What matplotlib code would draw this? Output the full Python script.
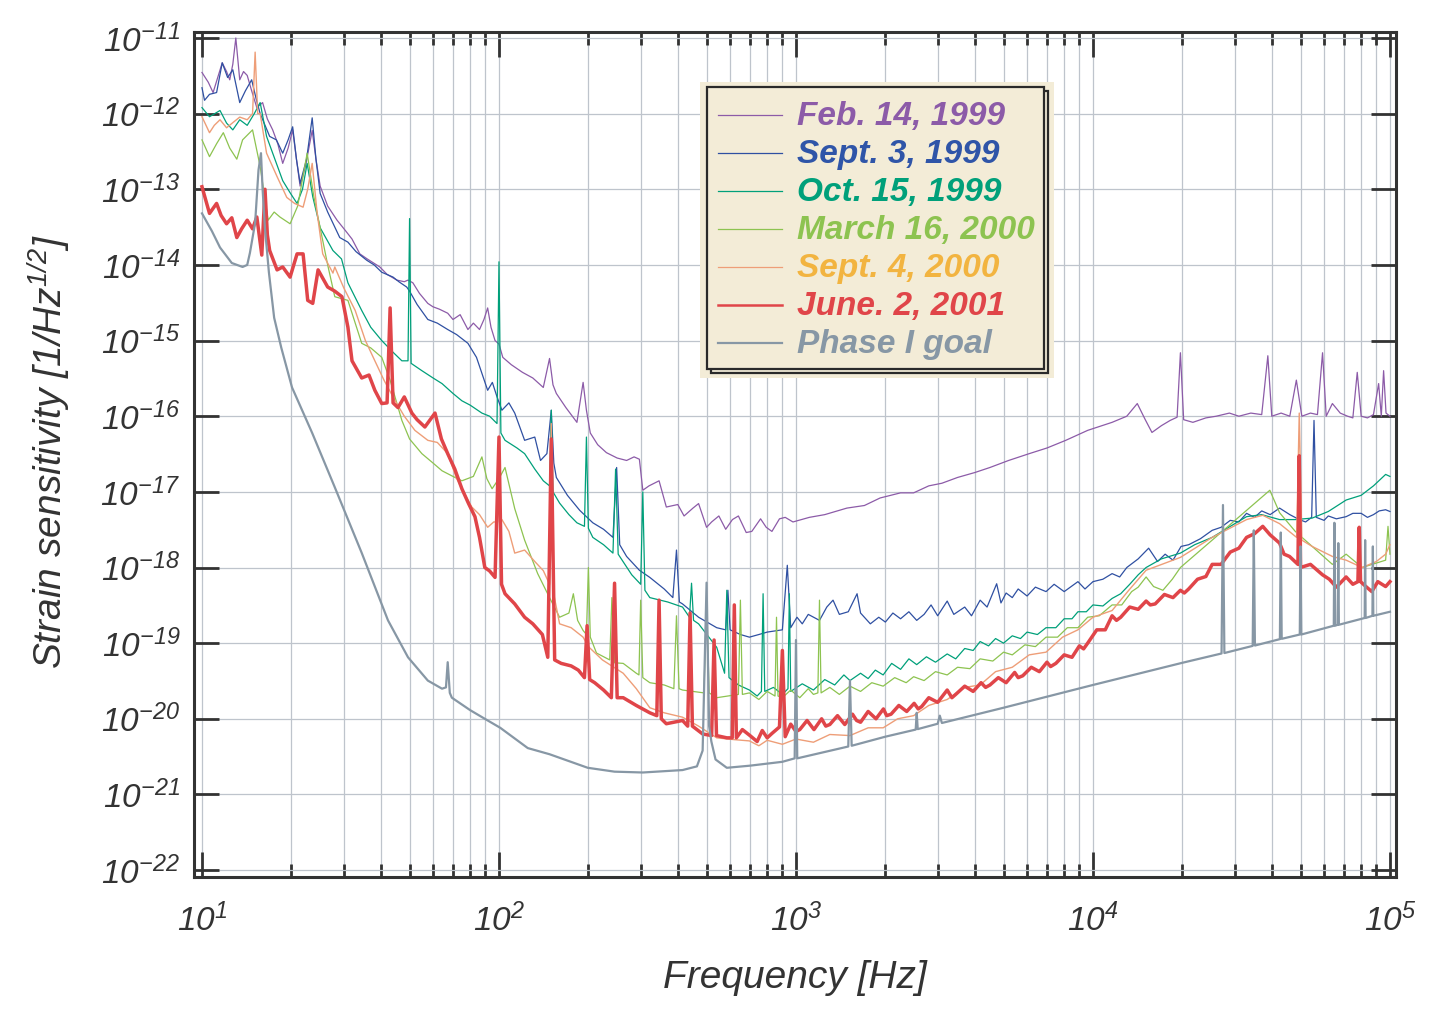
import numpy as np
import matplotlib
matplotlib.use("Agg")
import matplotlib.pyplot as plt
from matplotlib.ticker import FixedLocator, FuncFormatter, NullFormatter
from matplotlib.patches import Rectangle
from matplotlib.lines import Line2D

plt.rcParams['font.family'] = ['Liberation Sans', 'DejaVu Sans']
plt.rcParams['mathtext.fontset'] = 'custom'
plt.rcParams['mathtext.rm'] = 'Liberation Sans:italic'
plt.rcParams['mathtext.it'] = 'Liberation Sans:italic'
plt.rcParams['mathtext.bf'] = 'Liberation Sans:bold:italic'
plt.rcParams['mathtext.default'] = 'rm'

# ---------------- data: (frequency [Hz], strain [1/sqrt(Hz)]) ----------------
feb_1999 = [
    (10, 3.5e-12), (10.5, 2.6e-12), (10.9, 1.9e-12), (11.3, 3.0e-12), (11.7, 4.7e-12), (12.1, 3.6e-12),
    (12.4, 2.8e-12), (12.7, 4.5e-12), (13.0, 1.0e-11), (13.4, 2.8e-12), (13.8, 3.6e-12), (14.2, 3.2e-12),
    (14.7, 2.0e-12), (15.3, 1.2e-12), (16.0, 1.4e-12), (16.6, 8.5e-13), (17.3, 6.1e-13), (18.0, 4.0e-13),
    (18.7, 2.2e-13), (19.5, 3.5e-13), (20.2, 6.1e-13), (20.8, 2.5e-13), (21.4, 1.1e-13), (22.3, 2.0e-13),
    (23.5, 6.0e-13), (24.2, 2.5e-13), (25.0, 1.1e-13), (26.5, 6.0e-14), (28.5, 3.9e-14), (30.5, 2.8e-14),
    (32, 2.2e-14), (34, 1.4e-14), (36, 1.2e-14), (38, 1.05e-14), (39.7, 9.4e-15), (42, 7.5e-15),
    (45.3, 6.3e-15), (48, 6.0e-15), (49.4, 6.3e-15), (51.3, 5.8e-15), (54, 4.2e-15), (57.6, 3.1e-15),
    (59.9, 2.8e-15), (63, 2.6e-15), (67.2, 2.3e-15), (70, 1.9e-15), (74, 2.2e-15), (78.6, 1.4e-15),
    (82, 1.7e-15), (86, 1.4e-15), (89, 1.9e-15), (91.6, 2.7e-15), (94, 1.5e-15), (97, 1.0e-15),
    (100, 9.0e-16), (103, 6.0e-16), (110, 4.8e-16), (120, 3.8e-16), (130, 3.2e-16), (141, 2.4e-16),
    (148, 5.8e-16), (152, 2.6e-16), (156, 2.0e-16), (168, 1.3e-16), (183, 8.3e-17), (192, 2.8e-16),
    (197, 1.2e-16), (203, 6.0e-17), (215, 4.2e-17), (230, 3.3e-17), (250, 2.8e-17), (269, 2.6e-17),
    (285, 2.9e-17), (297, 2.7e-17), (305, 1.05e-17), (320, 1.2e-17), (346, 1.4e-17), (366, 6.3e-18),
    (400, 6.8e-18), (420, 4.8e-18), (450, 6.1e-18), (470, 7.0e-18), (500, 3.4e-18), (520, 4.0e-18),
    (550, 4.8e-18), (580, 3.2e-18), (611, 4.3e-18), (640, 4.8e-18), (680, 2.9e-18), (710, 3.0e-18),
    (740, 3.8e-18), (760, 4.4e-18), (794, 3.4e-18), (830, 3.0e-18), (880, 4.4e-18), (920, 4.6e-18),
    (977, 4.0e-18), (1109, 4.6e-18), (1250, 5.0e-18), (1484, 6.1e-18), (1700, 6.6e-18), (1920, 8.3e-18),
    (2250, 9.7e-18), (2490, 9.7e-18), (2800, 1.2e-17), (3100, 1.3e-17), (3500, 1.55e-17), (4000, 1.8e-17),
    (4500, 2.1e-17), (5200, 2.6e-17), (6100, 3.2e-17), (7000, 3.8e-17), (8100, 4.8e-17), (9600, 6.5e-17),
    (11600, 8.3e-17), (13000, 1.0e-16), (14100, 1.47e-16), (15000, 9.0e-17), (15800, 6.1e-17),
    (17000, 7.5e-17), (18200, 8.8e-17), (19200, 9.7e-17), (19700, 6.9e-16), (20200, 9.0e-17),
    (21700, 8.3e-17), (24000, 9.5e-17), (26000, 1.0e-16), (28800, 1.1e-16), (31000, 1.0e-16),
    (34000, 1.1e-16), (37000, 1.05e-16), (38800, 6.3e-16), (40000, 1.0e-16), (43000, 1.1e-16),
    (46000, 1.0e-16), (48400, 3.0e-16), (50500, 1.0e-16), (54000, 1.1e-16), (57000, 1.05e-16),
    (59300, 6.9e-16), (61000, 1.0e-16), (64000, 1.47e-16), (68000, 1.1e-16), (72000, 1.0e-16),
    (75000, 9.5e-17), (77600, 3.8e-16), (80000, 1.0e-16), (84000, 9.5e-17), (88000, 1.05e-16),
    (91600, 2.7e-16), (93500, 1.0e-16), (95200, 4.0e-16), (97000, 1.1e-16), (100000, 1.0e-16)]

sep_1999 = [
    (10, 2.2e-12), (10.2, 1.5e-12), (10.6, 1.8e-12), (11.2, 1.9e-12), (11.7, 4.7e-12), (12.2, 3.0e-12),
    (12.7, 3.8e-12), (13.4, 1.4e-12), (14.0, 2.0e-12), (14.7, 2.8e-12), (15.2, 1.6e-12), (15.7, 1.0e-12),
    (16.3, 7.0e-13), (16.9, 5.0e-13), (17.8, 4.5e-13), (18.7, 3.0e-13), (19.5, 4.5e-13), (20.2, 6.7e-13),
    (20.8, 2.5e-13), (21.4, 1.2e-13), (22.5, 2.5e-13), (23.5, 8.8e-13), (24.2, 2.5e-13), (25.0, 8.8e-14),
    (26.5, 5.0e-14), (29.1, 2.3e-14), (31, 2.0e-14), (33, 1.5e-14), (35.9, 1.15e-14), (38, 1.0e-14),
    (40.3, 8.0e-15), (44, 6.9e-15), (46, 6.0e-15), (48.9, 5.1e-15), (50, 4.5e-15), (53, 3.0e-15),
    (57.6, 1.9e-15), (62, 1.7e-15), (67.2, 1.4e-15), (72, 1.2e-15), (78.6, 9.2e-16), (84, 6.0e-16),
    (91.6, 2.2e-16), (95, 2.8e-16), (98.5, 1.8e-16), (102.3, 1.2e-16), (108, 1.5e-16), (113, 1.1e-16),
    (122, 4.8e-17), (132, 5.3e-17), (138, 2.6e-17), (145, 3.2e-17), (150, 1.2e-16), (153, 2.4e-17),
    (156, 1.55e-17), (170, 9.0e-18), (187, 5.7e-18), (207, 3.9e-18), (225, 3.2e-18), (242, 2.5e-18),
    (249, 2.1e-17), (255, 2.0e-18), (269, 1.4e-18), (297, 9.2e-19), (322, 7.4e-19), (360, 5.2e-19),
    (385, 4.0e-19), (396, 1.7e-18), (405, 3.5e-19), (415, 3.3e-19), (470, 2.2e-19), (541, 1.6e-19),
    (580, 1.5e-19), (590, 5.0e-19), (600, 1.5e-19), (650, 1.3e-19), (697, 1.2e-19), (750, 1.3e-19),
    (800, 1.4e-19), (900, 1.5e-19), (935, 1.07e-18), (960, 1.6e-19), (1008, 2.2e-19), (1050, 1.8e-19),
    (1100, 2.4e-19), (1200, 2.0e-19), (1270, 3.0e-19), (1333, 3.7e-19), (1400, 2.4e-19), (1500, 2.6e-19),
    (1606, 4.5e-19), (1650, 2.5e-19), (1780, 1.8e-19), (1900, 2.2e-19), (2000, 1.9e-19), (2120, 2.5e-19),
    (2250, 2.1e-19), (2400, 2.6e-19), (2550, 2.0e-19), (2700, 2.4e-19), (2850, 3.2e-19), (3000, 2.3e-19),
    (3230, 3.6e-19), (3400, 2.4e-19), (3700, 3.0e-19), (3900, 2.3e-19), (4170, 3.7e-19), (4400, 3.0e-19),
    (4740, 6.1e-19), (4900, 3.4e-19), (5100, 4.6e-19), (5350, 4.0e-19), (5600, 5.2e-19), (6000, 4.2e-19),
    (6400, 5.5e-19), (6950, 4.8e-19), (7400, 6.0e-19), (8000, 4.8e-19), (8500, 5.7e-19), (8900, 6.5e-19),
    (9400, 5.2e-19), (10000, 6.5e-19), (10800, 7.0e-19), (11600, 8.3e-19), (12300, 7.5e-19),
    (13000, 1.0e-18), (14200, 1.3e-18), (15400, 1.8e-18), (16500, 1.2e-18), (17500, 1.5e-18),
    (18600, 1.25e-18), (19800, 1.9e-18), (21000, 2.0e-18), (23000, 2.4e-18), (25200, 3.1e-18),
    (27000, 3.4e-18), (29000, 4.2e-18), (31000, 4.0e-18), (32900, 5.2e-18), (35000, 4.6e-18),
    (37000, 5.6e-18), (39500, 5.0e-18), (42500, 6.1e-18), (46000, 5.0e-18), (49500, 4.3e-18),
    (52000, 4.0e-18), (54500, 4.6e-18), (55500, 8.8e-17), (56500, 4.6e-18), (60000, 4.2e-18),
    (62000, 4.8e-18), (66000, 4.4e-18), (71200, 4.7e-18), (75000, 5.2e-18), (80000, 5.2e-18),
    (84000, 4.6e-18), (88000, 5.0e-18), (92000, 5.6e-18), (96700, 5.8e-18), (100000, 5.5e-18)]

oct_1999 = [
    (10, 1.2e-12), (10.6, 9.1e-13), (11.5, 1.1e-12), (12.1, 7.5e-13), (12.7, 6.1e-13), (13.4, 8.3e-13),
    (14.2, 7.0e-13), (15.0, 1.0e-12), (15.7, 1.4e-12), (16.5, 5.0e-13), (17.3, 3.0e-13), (18.7, 1.3e-13),
    (19.8, 9.0e-14), (20.9, 6.5e-14), (21.8, 1.0e-13), (22.6, 2.2e-13), (23.6, 8.0e-14), (25.0, 3.1e-14),
    (27.6, 1.55e-14), (29.5, 1.2e-14), (31, 5.8e-15), (34.5, 2.5e-15), (37, 1.5e-15), (40.3, 1.0e-15),
    (44, 7.0e-16), (47.1, 5.4e-16), (49.4, 5.4e-16), (50, 4.1e-14), (50.6, 5.0e-16), (55, 4.0e-16),
    (60, 3.2e-16), (64.3, 2.7e-16), (70, 2.0e-16), (75, 1.6e-16), (80, 1.4e-16), (87.6, 1.1e-16),
    (93, 1.0e-16), (98.5, 8.0e-17), (100, 1.1e-14), (101.5, 6.0e-17), (104.8, 4.8e-17), (115, 3.8e-17),
    (122, 3.2e-17), (132, 2.0e-17), (141, 1.4e-17), (148, 1.2e-17), (150, 1.2e-16), (152, 1.0e-17),
    (160, 7.1e-18), (172, 5.0e-18), (183, 3.9e-18), (194, 3.5e-18), (197, 5.3e-17), (200, 3.3e-18),
    (207, 2.5e-18), (225, 2.0e-18), (242, 1.55e-18), (247, 2.0e-17), (252, 1.5e-18), (280, 8.0e-19),
    (300, 6.0e-19), (305, 1.0e-17), (310, 5.0e-19), (322, 4.0e-19), (370, 3.5e-19), (415, 3.0e-19),
    (438, 2.2e-19), (445, 6.2e-19), (452, 2.0e-19), (470, 1.8e-19), (541, 8.8e-20), (575, 4.0e-20),
    (585, 5.0e-19), (595, 3.5e-20), (640, 2.8e-20), (697, 2.4e-20), (740, 2.0e-20), (765, 2.3e-20),
    (775, 4.5e-19), (785, 2.3e-20), (840, 2.6e-20), (900, 2.1e-20), (940, 2.5e-20), (950, 4.5e-19),
    (960, 2.3e-20), (1050, 2.9e-20), (1145, 2.4e-20), (1250, 3.3e-20), (1350, 2.8e-20), (1450, 3.8e-20),
    (1520, 3.2e-20), (1650, 4.0e-20), (1750, 3.4e-20), (1850, 4.4e-20), (1966, 3.8e-20), (2100, 5.4e-20),
    (2250, 4.5e-20), (2400, 6.2e-20), (2550, 5.2e-20), (2750, 6.6e-20), (2950, 5.6e-20), (3230, 7.2e-20),
    (3450, 6.2e-20), (3700, 8.5e-20), (3950, 8.0e-20), (4170, 1.05e-19), (4450, 9.2e-20), (4700, 1.15e-19),
    (5000, 1.0e-19), (5350, 1.25e-19), (5700, 1.15e-19), (6000, 1.4e-19), (6500, 1.3e-19), (6950, 1.6e-19),
    (7500, 1.6e-19), (8000, 2.1e-19), (8500, 2.1e-19), (8900, 2.6e-19), (9500, 2.6e-19), (10000, 3.2e-19),
    (10800, 3.1e-19), (11600, 3.9e-19), (12400, 4.5e-19), (13300, 6.0e-19), (14200, 8.0e-19),
    (15100, 1.0e-18), (17000, 1.3e-18), (19700, 1.55e-18), (22000, 2.0e-18), (25200, 2.5e-18),
    (29000, 3.5e-18), (32900, 4.7e-18), (37000, 5.0e-18), (42500, 4.3e-18), (48000, 4.3e-18),
    (54700, 4.5e-18), (62000, 5.5e-18), (71200, 7.8e-18), (80000, 9.0e-18), (88000, 1.2e-17),
    (96700, 1.7e-17), (100000, 1.6e-17)]

mar_2000 = [
    (10, 4.5e-13), (10.6, 2.7e-13), (11.2, 4.0e-13), (11.8, 5.6e-13), (12.4, 3.5e-13), (13.1, 2.5e-13),
    (13.7, 4.5e-13), (14.8, 6.1e-13), (15.7, 2.0e-13), (16.7, 3.9e-14), (17.5, 5.0e-14), (18.3, 4.3e-14),
    (19.8, 3.5e-14), (21.0, 6.0e-14), (22.6, 3.0e-13), (23.8, 8.0e-14), (25, 3.1e-14), (26.5, 1.0e-14),
    (28, 3.8e-15), (31, 3.4e-15), (34.5, 9.2e-16), (37, 8.0e-16), (40.3, 6.0e-16), (43, 3.0e-16),
    (47.1, 8.8e-17), (50, 5.0e-17), (55, 3.2e-17), (60, 2.4e-17), (64.3, 1.9e-17), (70, 1.6e-17),
    (75, 1.4e-17), (82, 1.6e-17), (87.6, 2.9e-17), (91, 1.5e-17), (94.8, 1.1e-17), (100, 1.5e-17),
    (104.8, 2.1e-17), (113, 6.0e-18), (122, 2.3e-18), (135, 8.3e-19), (148, 4.0e-19), (160, 2.2e-19),
    (172, 2.5e-19), (178, 4.5e-19), (184, 2.0e-19), (192, 1.47e-19), (197, 1.3e-19), (200, 1.0e-18),
    (203, 1.2e-19), (213, 7.4e-20), (236, 6.0e-20), (240, 4.0e-19), (245, 5.5e-20), (262, 5.4e-20),
    (290, 4.0e-20), (296, 3.8e-20), (300, 3.7e-19), (305, 3.5e-20), (322, 3.0e-20), (360, 2.8e-20),
    (388, 2.5e-20), (396, 2.3e-19), (404, 2.5e-20), (415, 2.4e-20), (490, 2.2e-20), (500, 3.7e-19),
    (510, 2.2e-20), (541, 1.9e-20), (640, 2.1e-20), (650, 3.7e-19), (660, 2.1e-20), (697, 2.2e-20),
    (750, 1.8e-20), (800, 2.3e-20), (850, 2.0e-20), (860, 2.2e-19), (870, 2.0e-20), (900, 1.9e-20),
    (960, 2.4e-20), (1030, 1.9e-20), (1100, 2.5e-20), (1145, 2.1e-20), (1185, 2.2e-20), (1200, 3.7e-19),
    (1215, 2.2e-20), (1300, 2.6e-20), (1400, 2.1e-20), (1520, 2.7e-20), (1650, 2.3e-20), (1800, 3.0e-20),
    (1966, 2.7e-20), (2150, 3.5e-20), (2350, 3.0e-20), (2490, 3.6e-20), (2700, 3.2e-20), (2950, 4.2e-20),
    (3230, 3.8e-20), (3500, 4.8e-20), (3850, 4.6e-20), (4170, 6.2e-20), (4600, 5.8e-20), (5000, 7.6e-20),
    (5350, 7.0e-20), (5900, 9.5e-20), (6400, 9.0e-20), (6950, 1.2e-19), (7600, 1.2e-19), (8200, 1.6e-19),
    (8900, 1.6e-19), (9600, 2.2e-19), (10500, 2.3e-19), (11600, 3.2e-19), (12500, 3.2e-19),
    (13500, 4.8e-19), (14200, 5.5e-19), (15100, 7.5e-19), (16000, 5.6e-19), (17200, 5.0e-19),
    (18500, 7.0e-19), (19700, 1.0e-18), (25200, 2.3e-18), (32900, 5.7e-18), (39400, 1.05e-17),
    (42500, 5.3e-18), (48000, 3.0e-18), (54700, 1.9e-18), (64000, 1.1e-18), (71200, 1.5e-18),
    (80600, 1.0e-18), (96700, 1.25e-18), (98500, 3.5e-18), (100000, 1.5e-18)]

sep_2000 = [
    (10, 9.1e-13), (10.6, 5.6e-13), (11.0, 7.0e-13), (11.5, 8.3e-13), (12.1, 6.5e-13), (12.7, 7.6e-13),
    (13.4, 9.0e-13), (14.2, 8.3e-13), (14.8, 1.0e-12), (15.1, 6.5e-12), (15.4, 1.0e-12), (15.7, 1.0e-12),
    (16.5, 3.0e-13), (17.9, 1.47e-13), (19.3, 7.8e-14), (20.5, 6.5e-14), (21.9, 5.8e-14), (22.7, 1.0e-13),
    (23.5, 2.2e-13), (24.4, 5.0e-14), (25.5, 1.4e-14), (27.6, 7.8e-15), (28, 9.4e-15), (30, 5.0e-15),
    (32.8, 2.5e-15), (35.5, 1.0e-15), (38.2, 5.4e-16), (41, 3.0e-16), (44.7, 1.6e-16), (48, 1.0e-16),
    (52.1, 6.5e-17), (57.6, 4.8e-17), (62, 4.5e-17), (67.2, 3.2e-17), (72, 1.5e-17), (77, 9.0e-18),
    (81, 6.3e-18), (86, 5.0e-18), (91.6, 3.4e-18), (96, 4.0e-18), (99, 4.0e-18), (100, 2.0e-17),
    (101, 4.2e-18), (102.3, 4.3e-18), (108, 3.0e-18), (113, 1.55e-18), (122, 1.7e-18), (132, 1.2e-18),
    (141, 9.1e-19), (148, 6.0e-19), (150, 8.0e-17), (152, 5.0e-19), (160, 1.8e-19), (175, 1.6e-19),
    (192, 1.2e-19), (200, 9.0e-20), (223, 6.0e-20), (262, 4.0e-20), (290, 2.5e-20), (322, 1.4e-20),
    (360, 1.2e-20), (415, 1.05e-20), (470, 8.0e-21), (541, 5.6e-21), (620, 5.3e-21), (697, 5.1e-21),
    (750, 4.4e-21), (800, 5.2e-21), (900, 4.6e-21), (1000, 5.4e-21), (1145, 4.9e-21), (1300, 6.2e-21),
    (1520, 6.0e-21), (1750, 7.6e-21), (1966, 7.6e-21), (2200, 1.0e-20), (2490, 1.1e-20), (2800, 1.5e-20),
    (3230, 1.8e-20), (3700, 2.6e-20), (4170, 2.8e-20), (4700, 4.2e-20), (5350, 4.8e-20), (6100, 7.0e-20),
    (6950, 7.6e-20), (7900, 1.2e-19), (8900, 1.5e-19), (10000, 2.2e-19), (11600, 2.7e-19), (13200, 5.0e-19),
    (15100, 9.2e-19), (19700, 1.36e-18), (25200, 2.5e-18), (32900, 4.3e-18), (37300, 4.9e-18),
    (42500, 3.8e-18), (48500, 2.5e-18), (49500, 1.1e-16), (50500, 2.3e-18), (54700, 1.9e-18),
    (64000, 1.4e-18), (71200, 1.25e-18), (80600, 1.0e-18), (90000, 1.2e-18), (96700, 1.5e-18),
    (100000, 2.0e-18)]

jun_2001 = [
    (10, 1.08e-13), (10.6, 4.8e-14), (11.2, 6.5e-14), (11.6, 4.5e-14), (12.1, 3.5e-14), (12.6, 4.2e-14),
    (13.1, 2.3e-14), (13.6, 3.0e-14), (14.2, 3.9e-14), (14.8, 3.0e-14), (15.3, 4.3e-14), (15.9, 1.35e-14),
    (16.3, 1.0e-13), (16.6, 2.5e-14), (16.9, 1.55e-14), (17.9, 8.6e-15), (18.7, 9.4e-15), (19.8, 6.9e-15),
    (20.9, 1.4e-14), (21.9, 1.4e-14), (22.7, 3.4e-15), (23.6, 3.1e-15), (24.6, 8.6e-15), (26.5, 5.1e-15),
    (28, 4.5e-15), (29.6, 3.8e-15), (31, 1.5e-15), (32, 5.4e-16), (34.5, 3.2e-16), (36.5, 3.5e-16),
    (38.2, 2.2e-16), (40.3, 1.47e-16), (42, 1.5e-16), (43, 2.7e-15), (44, 1.5e-16), (45.7, 1.3e-16),
    (48, 1.8e-16), (50.9, 1.1e-16), (53, 9.0e-17), (56.3, 7.2e-17), (60.9, 1.1e-16), (64, 5.0e-17),
    (67.2, 3.2e-17), (71, 2.0e-17), (75, 1.1e-17), (79, 7.0e-18), (83, 4.7e-18), (86, 2.5e-18),
    (89.6, 1.0e-18), (93, 9.0e-19), (97, 7.4e-19), (100, 5.3e-17), (102, 6.0e-19), (104.8, 4.5e-19),
    (113, 3.3e-19), (122, 2.2e-19), (130, 1.8e-19), (140, 1.3e-19), (146, 6.5e-20), (150, 5.0e-17),
    (154, 6.0e-20), (162, 5.4e-20), (175, 5.0e-20), (185, 4.4e-20), (194, 3.5e-20), (198, 1.7e-19),
    (202, 3.3e-20), (210, 3.0e-20), (225, 2.4e-20), (239, 1.9e-20), (245, 6.2e-19), (250, 1.9e-20),
    (262, 1.9e-20), (290, 1.5e-20), (322, 1.2e-20), (340, 1.1e-20), (346, 3.7e-19), (352, 1.0e-20),
    (366, 8.6e-21), (415, 9.5e-21), (432, 8.0e-21), (440, 2.5e-19), (448, 8.0e-21), (485, 6.3e-21),
    (520, 6.0e-21), (530, 1.1e-19), (540, 6.0e-21), (585, 5.6e-21), (610, 5.6e-21), (620, 3.2e-19),
    (630, 5.6e-21), (660, 7.2e-21), (700, 6.0e-21), (740, 5.0e-21), (770, 7.0e-21), (800, 5.6e-21),
    (830, 6.4e-21), (880, 7.8e-21), (900, 8.0e-20), (920, 5.8e-21), (960, 8.5e-21), (1000, 6.8e-21),
    (1030, 7.2e-21), (1090, 9.5e-21), (1150, 7.2e-21), (1220, 1.0e-20), (1260, 8.0e-21), (1300, 8.4e-21),
    (1380, 1.1e-20), (1460, 8.4e-21), (1550, 1.15e-20), (1600, 9.5e-21), (1650, 9.0e-21), (1750, 1.25e-20),
    (1860, 1.0e-20), (1970, 1.35e-20), (2020, 1.1e-20), (2090, 1.15e-20), (2220, 1.5e-20), (2360, 1.25e-20),
    (2500, 1.6e-20), (2580, 1.35e-20), (2650, 1.45e-20), (2800, 1.9e-20), (3000, 1.65e-20), (3230, 2.4e-20),
    (3350, 1.9e-20), (3450, 2.1e-20), (3700, 2.7e-20), (3950, 2.3e-20), (4200, 3.0e-20), (4350, 2.6e-20),
    (4500, 2.8e-20), (4800, 3.5e-20), (5100, 3.0e-20), (5450, 4.1e-20), (5600, 3.5e-20), (5800, 3.7e-20),
    (6200, 4.8e-20), (6600, 4.2e-20), (7000, 5.6e-20), (7200, 4.9e-20), (7500, 5.4e-20), (8000, 7.0e-20),
    (8500, 6.5e-20), (9000, 9.2e-20), (9300, 8.4e-20), (9600, 1.0e-19), (10300, 1.5e-19), (11000, 1.5e-19),
    (11600, 2.3e-19), (12000, 2.0e-19), (12400, 2.2e-19), (13300, 3.0e-19), (14200, 2.8e-19),
    (15100, 3.6e-19), (15600, 3.2e-19), (16200, 3.3e-19), (17400, 4.4e-19), (18600, 4.0e-19),
    (19700, 5.0e-19), (20300, 4.6e-19), (21000, 5.2e-19), (22500, 7.0e-19), (24000, 7.6e-19),
    (25200, 1.1e-18), (27000, 1.1e-18), (29000, 1.6e-18), (31000, 1.8e-18), (32900, 2.5e-18),
    (35000, 2.8e-18), (37300, 3.5e-18), (39500, 2.7e-18), (42500, 2.1e-18), (44000, 1.5e-18),
    (45900, 1.4e-18), (49000, 1.1e-18), (49500, 3.0e-17), (50000, 1.0e-18), (54000, 1.1e-18),
    (59300, 8.0e-19), (62500, 7.0e-19), (66000, 5.5e-19), (71200, 7.5e-19), (75000, 6.0e-19),
    (78000, 6.5e-19), (78800, 3.4e-18), (79600, 6.5e-19), (83000, 5.6e-19), (86900, 4.8e-19),
    (91000, 6.5e-19), (96700, 5.6e-19), (100000, 6.5e-19)]

phase1_goal = [
    (10, 4.8e-14), (10.8, 2.8e-14), (11.5, 1.7e-14), (12.6, 1.06e-14), (13.7, 9.4e-15), (14.2, 1.0e-14),
    (14.5, 1.44e-14), (15.1, 3.6e-14), (15.5, 1.8e-13), (15.8, 3.0e-13), (16.0, 1.0e-13), (16.3, 3.0e-14),
    (16.8, 8.0e-15), (17.5, 2.0e-15), (18.5, 8.0e-16), (20.1, 2.4e-16), (23.5, 6.0e-17), (28, 1.15e-17),
    (34.5, 1.56e-18), (42.3, 2.0e-19), (49.4, 6.5e-20), (57.6, 3.2e-20), (64.3, 2.5e-20), (66.3, 2.6e-20),
    (67.2, 5.6e-20), (68.3, 2.2e-20), (69.4, 1.9e-20), (80, 1.3e-20), (89.6, 1.0e-20), (101, 7.6e-21),
    (125, 4.1e-21), (148, 3.4e-21), (199, 2.25e-21), (245, 2.0e-21), (305, 1.95e-21), (415, 2.1e-21),
    (464, 2.35e-21), (485, 3.8e-21), (500, 6.3e-19), (510, 8.0e-21), (519, 5.0e-21), (536, 2.9e-21),
    (585, 2.25e-21), (700, 2.4e-21), (900, 2.7e-21), (990, 3.0e-21), (1000, 1.1e-19), (1010, 3.0e-21),
    (1500, 4.3e-21), (1520, 3.2e-20), (1540, 4.4e-21), (2000, 5.8e-21), (2530, 7.2e-21), (2550, 1.2e-20),
    (2570, 7.3e-21), (3000, 8.6e-21), (3050, 1.1e-20), (3100, 8.8e-21), (5000, 1.4e-20), (10000, 2.8e-20),
    (20000, 5.5e-20), (27100, 7.3e-20), (27400, 6.7e-18), (27700, 7.4e-20), (34500, 9.2e-20),
    (34800, 3.1e-18), (35100, 9.3e-20), (42600, 1.13e-19), (42900, 2.9e-18), (43200, 1.14e-19),
    (49700, 1.3e-19), (50000, 1.9e-18), (50300, 1.3e-19), (64700, 1.7e-19), (65000, 3.9e-18),
    (65400, 1.7e-19), (66700, 1.75e-19), (67000, 2.1e-18), (67300, 1.75e-19), (82200, 2.15e-19),
    (82500, 2.3e-18), (82800, 2.15e-19), (87300, 2.3e-19), (87600, 1.9e-18), (87900, 2.3e-19),
    (100000, 2.6e-19)]

labels = ["Feb. 14, 1999", "Sept. 3, 1999", "Oct. 15, 1999", "March 16, 2000",
          "Sept. 4, 2000", "June. 2, 2001", "Phase I goal"]
series = [feb_1999, sep_1999, oct_1999, mar_2000, sep_2000, jun_2001, phase1_goal]

line_colors = ['#8C5BA8', '#2F50A2', '#00A07A', '#8DC350', '#EE9E78', '#E04549', '#8797A5']
text_colors = ['#8C5BA8', '#2F55A8', '#00A07A', '#8DC350', '#F2B440', '#E04549', '#8797A5']
line_widths = [0.9, 0.9, 0.9, 0.9, 1.0, 2.5, 1.6]
legend_widths = [0.9, 0.9, 0.9, 0.9, 0.9, 1.8, 1.6]

dark = '#333333'

fig = plt.figure(figsize=(14.44, 10.32), dpi=100)
ax = fig.add_axes([194 / 1444, 1 - 877 / 1032, 1202 / 1444, 845 / 1032])
ax.set_xscale('log')
ax.set_yscale('log')
ax.set_xlim(9.40, 1.048e5)
ax.set_ylim(8.1e-23, 1.2e-11)

for data, c, lw in zip(series, line_colors, line_widths):
    f, h = zip(*data)
    ax.plot(f, h, color=c, lw=lw, zorder=3)

# ticks
ax.xaxis.set_major_locator(FixedLocator([10.0 ** k for k in range(1, 6)]))
ax.xaxis.set_minor_locator(FixedLocator([m * 10.0 ** k for k in range(1, 5) for m in range(2, 10)]))
ax.yaxis.set_major_locator(FixedLocator([10.0 ** k for k in range(-22, -10)]))
ax.yaxis.set_minor_locator(FixedLocator([]))
fmt = FuncFormatter(lambda v, p: r'$10^{%d}$' % int(round(np.log10(v))))
ax.xaxis.set_major_formatter(fmt)
ax.yaxis.set_major_formatter(fmt)
ax.xaxis.set_minor_formatter(NullFormatter())

ax.tick_params(which='major', direction='in', length=18, width=2.0, color=dark,
               top=True, right=True, labelsize=24, labelcolor=dark)
ax.tick_params(which='minor', direction='in', length=9.5, width=2.0, color=dark,
               top=True, right=True)
ax.tick_params(axis='y', which='major', pad=10)
ax.tick_params(axis='x', which='major', pad=19)

for s in ax.spines.values():
    s.set_linewidth(2.2)
    s.set_color(dark)

ax.grid(True, which='major', axis='both', color='#BEC4CC', lw=0.9, zorder=0)
ax.grid(True, which='minor', axis='x', color='#BEC4CC', lw=0.9, zorder=0)
ax.set_axisbelow(True)

ax.set_xlabel('Frequency [Hz]', fontsize=28, fontstyle='italic', color=dark)
ax.set_ylabel(r'Strain sensitivity [1/Hz$^{1/2}$]', fontsize=28, fontstyle='italic', color=dark)
ax.xaxis.set_label_coords(0.5, -0.098)
ax.yaxis.set_label_coords(-0.101, 0.504)

# ---------------- legend box (drawn manually) ----------------
def AX(px):
    return (px - 194) / 1202.0

def AY(py):
    return (877 - py) / 845.0

beige = '#F3ECD7'
ax.add_patch(Rectangle((AX(700), AY(378)), AX(1054) - AX(700), AY(82) - AY(378),
                       transform=ax.transAxes, facecolor=beige, edgecolor='none', zorder=5))
ax.add_patch(Rectangle((AX(711), AY(373)), AX(1048) - AX(711), AY(91) - AY(373),
                       transform=ax.transAxes, facecolor=beige, edgecolor='#2A2A2A', lw=1.6, zorder=6))
ax.add_patch(Rectangle((AX(707), AY(369)), AX(1044) - AX(707), AY(87) - AY(369),
                       transform=ax.transAxes, facecolor=beige, edgecolor='#2A2A2A', lw=1.6, zorder=7))

rows = [115, 153, 191, 229, 267, 305, 343]
for lab, py, lc, tc, lw in zip(labels, rows, line_colors, text_colors, legend_widths):
    ax.add_line(Line2D([AX(718), AX(782)], [AY(py), AY(py)], transform=ax.transAxes,
                       color=lc, lw=lw, zorder=8))
    ax.text(AX(797), AY(py + 1), lab, transform=ax.transAxes, fontsize=24,
            fontweight='bold', fontstyle='italic', color=tc, va='center', ha='left', zorder=8)

fig.savefig('out.png', dpi=100)
